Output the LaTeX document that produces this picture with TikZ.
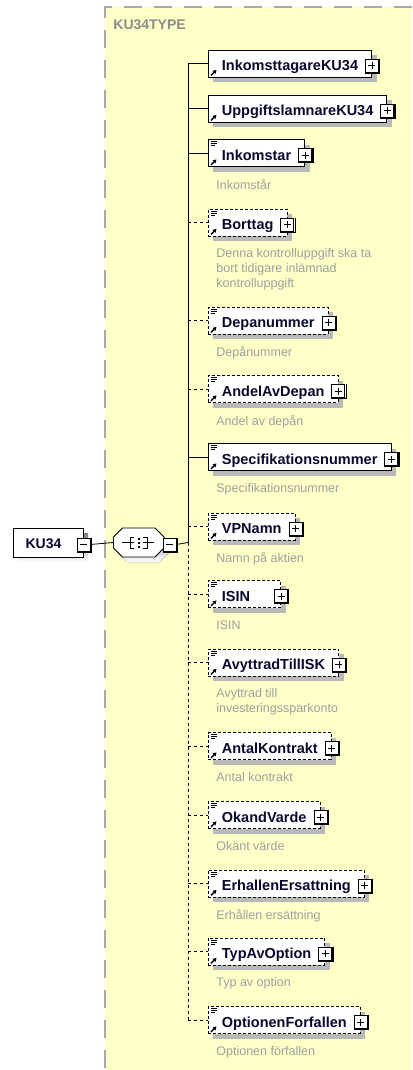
\documentclass[tikz,border=0pt]{standalone}
\usepackage{fontspec}
\setmainfont{Liberation Sans}
\usetikzlibrary{positioning,arrows.meta}

\definecolor{typebg}{HTML}{FFFFC8}
\definecolor{typeframe}{HTML}{A8A8A8}
\definecolor{typetitle}{HTML}{8C8C8C}
\definecolor{namecol}{HTML}{08082E}
\definecolor{doccol}{HTML}{A0A0A0}
\definecolor{shade}{HTML}{B9B9B9}

\tikzset{
	elem/.style={draw, fill=white, anchor=west, minimum height=27pt, inner xsep=13.5pt, inner ysep=0pt,
		text height=14pt, text depth=0pt, font=\fontsize{14.5}{17}\selectfont\bfseries, text=namecol},
	optelem/.style={elem, dash pattern=on 3pt off 2pt},
	elemshade/.style={elem, draw=none, fill=shade},
	doc/.style={font=\fontsize{12.5}{15}\selectfont, text=doccol, align=left, inner sep=0pt},
	plusbox/.style={draw, fill=white, minimum size=13pt, inner sep=0pt, line width=0.8pt,
		path picture={\draw[line width=0.8pt] ([xshift=3pt]path picture bounding box.west) -- ([xshift=-3pt]path picture bounding box.east)
			([yshift=-3pt]path picture bounding box.north) -- ([yshift=3pt]path picture bounding box.south);}},
	minusbox/.style={draw, fill=white, minimum size=13pt, inner sep=0pt, line width=0.8pt,
		path picture={\draw[line width=0.8pt] ([xshift=3pt]path picture bounding box.west) -- ([xshift=-3pt]path picture bounding box.east);}},
	boxedge/.style={line width=1.3pt},
	opt/.style={dash pattern=on 3pt off 3pt}
}

\begin{document}
\begin{tikzpicture}[x=1pt, y=-1pt, line width=0.8pt]
	\useasboundingbox (0,0) rectangle (412,1070);
	
	% Complex type frame
	\fill[typebg] (105,7) rectangle (412,1070);
	\draw[typeframe, line width=1.8pt, dash pattern=on 18pt off 12pt] (412,7) -- (105,7) -- (105,1070);
	\node[anchor=base west, inner sep=0pt, font=\fontsize{14}{16}\selectfont\bfseries, text=typetitle] (title) at (113,30) {KU34TYPE};
	
	% Root element and sequence
	\fill[shade] (18,533) rectangle (88,562);
	\node[draw, fill=white, minimum width=70pt, minimum height=29pt, inner sep=0pt, text height=12pt, text depth=0pt,
		font=\fontsize{14}{16}\selectfont\bfseries, text=namecol] (ku34) at (48,542.5) {KU34\hspace{9pt}\mbox{}};
	\fill[shade, shift={(5,5)}] (122.5,528) -- (155,528) -- (164,537) -- (164,548) -- (155,557) -- (122.5,557) -- (113.5,548) -- (113.5,537) -- cycle;
	\node[minimum width=50.5pt, minimum height=29pt, inner sep=0pt] (seq) at (138.75,542.5) {};
	\draw[fill=white] (122.5,528) -- (155,528) -- (164,537) -- (164,548) -- (155,557) -- (122.5,557) -- (113.5,548) -- (113.5,537) -- cycle;
	
	% Sequence symbol
	\draw (122,542.5) -- (134,542.5) (143,542.5) -- (154,542.5);
	\draw (134,537) -- (130,537) -- (130,548) -- (134,548);
	\draw (143,537) -- (147,537) -- (147,548) -- (143,548);
	\foreach \y in {538.5,542.5,546.5}
		\fill (137.5,\y-1) rectangle (139.5,\y+1);
	
	% Child elements with their shadows
	\foreach \n/\y/\s/\t in {inkomsttagare/63.5/elem/InkomsttagareKU34, uppgiftslamnare/108.5/elem/UppgiftslamnareKU34,
		inkomstar/153/elem/Inkomstar, borttag/222.5/optelem/Borttag, depanummer/320.5/optelem/Depanummer,
		andel/389/optelem/AndelAvDepan, spec/457/elem/Specifikationsnummer, vpnamn/526.5/optelem/VPNamn,
		isin/594/optelem/ISIN\hspace{17pt}\mbox{}, avyttrad/662.5/optelem/AvyttradTillISK, antal/746/optelem/AntalKontrakt,
		okand/815/optelem/OkandVarde, erhallen/883.5/optelem/ErhallenErsattning, typavoption/951.5/optelem/TypAvOption,
		optionen/1020/optelem/OptionenForfallen} {
		\node[elemshade] (\n-shade) at (213,\y+5) {\phantom{\t}};
		\node[\s] (\n) at (208,\y) {\t};
	}
	
	% Documentation
	\node[doc, below right=12pt and 8pt of inkomstar.south west] (inkomstar-doc) {Inkomstår};
	\node[doc, below right=12pt and 8pt of borttag.south west] (borttag-doc) {Denna kontrolluppgift ska ta\\bort tidigare inlämnad\\kontrolluppgift};
	\node[doc, below right=12pt and 8pt of depanummer.south west] (depanummer-doc) {Depånummer};
	\node[doc, below right=12pt and 8pt of andel.south west] (andel-doc) {Andel av depån};
	\node[doc, below right=12pt and 8pt of spec.south west] (spec-doc) {Specifikationsnummer};
	\node[doc, below right=12pt and 8pt of vpnamn.south west] (vpnamn-doc) {Namn på aktien};
	\node[doc, below right=12pt and 8pt of isin.south west] (isin-doc) {ISIN};
	\node[doc, below right=12pt and 8pt of avyttrad.south west] (avyttrad-doc) {Avyttrad till\\investeringssparkonto};
	\node[doc, below right=12pt and 8pt of antal.south west] (antal-doc) {Antal kontrakt};
	\node[doc, below right=12pt and 8pt of okand.south west] (okand-doc) {Okänt värde};
	\node[doc, below right=12pt and 8pt of erhallen.south west] (erhallen-doc) {Erhållen ersättning};
	\node[doc, below right=12pt and 8pt of typavoption.south west] (typavoption-doc) {Typ av option};
	\node[doc, below right=12pt and 8pt of optionen.south west] (optionen-doc) {Optionen förfallen};
	
	% Expand and collapse boxes
	\node[minusbox] (ku34-minus) at ([yshift=-2pt]ku34.east) {};
	\node[minusbox] (seq-minus) at ([xshift=5pt, yshift=-2pt]seq.east) {};
	\foreach \n in {inkomsttagare, uppgiftslamnare, inkomstar, borttag, depanummer, andel, spec, vpnamn,
		isin, avyttrad, antal, okand, erhallen, typavoption, optionen}
		\node[plusbox] (\n-plus) at ([yshift=-2pt]\n.east) {};
	\foreach \n in {ku34-minus, seq-minus, inkomsttagare-plus, uppgiftslamnare-plus, inkomstar-plus, borttag-plus,
		depanummer-plus, andel-plus, spec-plus, vpnamn-plus, isin-plus, avyttrad-plus, antal-plus, okand-plus,
		erhallen-plus, typavoption-plus, optionen-plus}
		\draw[boxedge] ([xshift=0.9pt]\n.north east) -- ([shift={(0.9pt,-0.9pt)}]\n.south east) -- ([yshift=-0.9pt]\n.south west);
	
	% Reference arrows
	\foreach \n in {inkomsttagare, uppgiftslamnare, inkomstar, borttag, depanummer, andel, spec, vpnamn,
		isin, avyttrad, antal, okand, erhallen, typavoption, optionen}
		\draw[line width=1.3pt, -{Triangle[length=3.5pt, width=4pt]}] ([xshift=3pt, yshift=2pt]\n.south west) -- ++(5.5pt,5.5pt);
	
	% Annotation marks
	\foreach \n in {inkomstar, borttag, depanummer, andel, spec, vpnamn,
		isin, avyttrad, antal, okand, erhallen, typavoption, optionen}
		\foreach \d/\l in {2.5pt/6pt, 4.5pt/6pt, 6.5pt/4pt}
			\draw[line width=0.7pt] ([xshift=3pt, yshift=-\d]\n.north west) -- ++(\l,0pt);
	
	% Connectors
	\coordinate (spine) at (188,542.5);
	\draw (ku34-minus.east) -- (seq.west);
	\draw (seq-minus.east) -- (spine);
	\draw (spine |- inkomsttagare.west) -- (spine);
	\draw[opt] (spine) -- (spine |- optionen.west);
	\foreach \n in {inkomsttagare, uppgiftslamnare, inkomstar, spec}
		\draw (spine |- \n.west) -- (\n.west);
	\foreach \n in {borttag, depanummer, andel, vpnamn, isin, avyttrad, antal, okand, erhallen, typavoption, optionen}
		\draw[opt] (spine |- \n.west) -- (\n.west);
	
\end{tikzpicture}
\end{document}
